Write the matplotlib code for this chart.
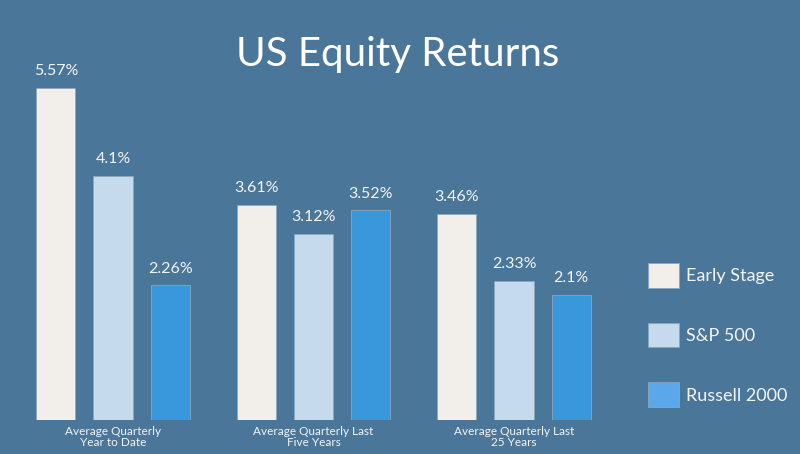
import matplotlib.pyplot as plt
from matplotlib.patches import Patch
import numpy as np

categories = ['Average Quarterly\nYear to Date', 'Average Quarterly Last\nFive Years',
              'Average Quarterly Last\n25 Years']
series = ['Early Stage', 'S&P 500', 'Russell 2000']
early_stage = [5.57, 3.61, 3.46]
sp500 = [4.1, 3.12, 2.33]
russell = [2.26, 3.52, 2.1]
value_labels = [['5.57%', '3.61%', '3.46%'], ['4.1%', '3.12%', '2.33%'], ['2.26%', '3.52%', '2.1%']]

bg = '#4a7699'
bar_colors = ['#f2efea', '#c6daee', '#3998dc']
legend_colors = ['#f2efea', '#c6daee', '#5aa8ea']

plt.rcParams['font.family'] = ['Lato', 'DejaVu Sans']

fig = plt.figure(figsize=(8, 4.54), dpi=100, facecolor=bg)
ax = fig.add_axes([0, 34 / 454, 1, 420 / 454])
ax.set_facecolor(bg)

x = np.arange(len(categories))
offset = 0.285
width = 0.195
for k, vals in enumerate([early_stage, sp500, russell]):
    pos = x + (k - 1) * offset
    bars = ax.bar(pos, vals, width, color=bar_colors[k], edgecolor='#8aa6bf', linewidth=0.6)
    for b, lab in zip(bars, value_labels[k]):
        ax.annotate(lab, (b.get_x() + b.get_width() / 2, b.get_height()),
                    xytext=(0, 7), textcoords='offset points', ha='center', va='bottom',
                    color='#f4f4f4', fontsize=11.5)

ax.set_xlim(-113 / 200.5, 687 / 200.5)
ax.set_ylim(0, 7.05)
ax.axis('off')

for xi, cat in zip(x, categories):
    ax.annotate(cat, (xi, 0), xytext=(0, -4), textcoords='offset points', ha='center', va='top',
                color='#f4f4f4', fontsize=8.5, linespacing=1.0, annotation_clip=False)

fig.text(0.497, 0.88, 'US Equity Returns', ha='center', va='center', color='white', fontsize=29)

handles = [Patch(facecolor=c, edgecolor='#8aa6bf', linewidth=0.6) for c in legend_colors]
fig.legend(handles, series, loc='center left', bbox_to_anchor=(0.79, 0.262), frameon=False,
           fontsize=13, handlelength=1.7, handleheight=1.7, labelspacing=1.95,
           handletextpad=0.4, labelcolor='#f4f4f4')

fig.savefig('out.png', dpi=100, facecolor=bg)
